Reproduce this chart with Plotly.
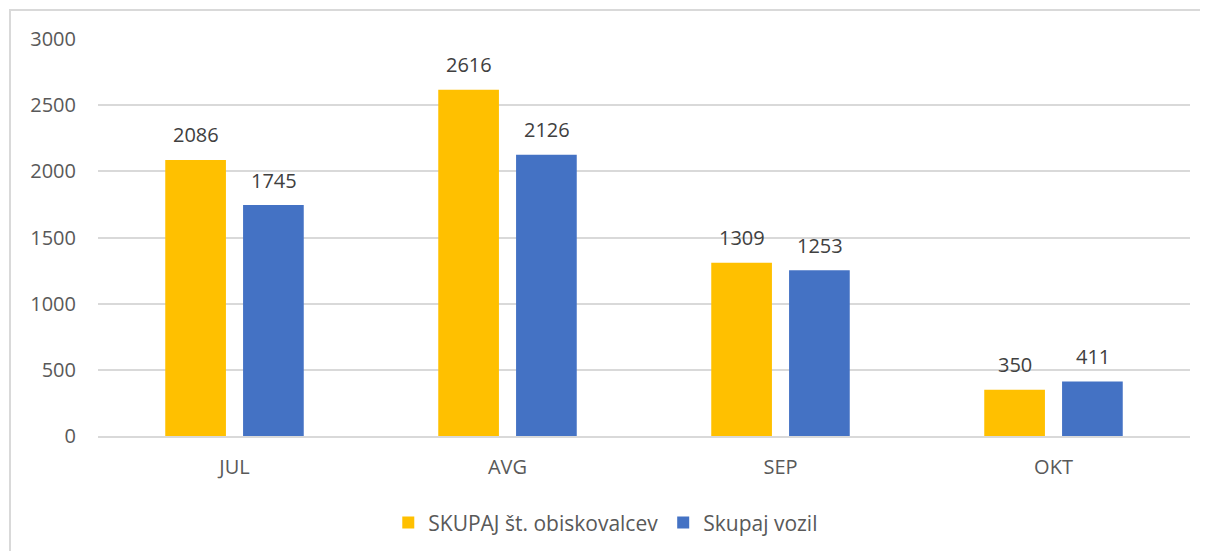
import plotly.graph_objects as go

months = ["JUL", "AVG", "SEP", "OKT"]
visitors = [2086, 2616, 1309, 350]
vehicles = [1745, 2126, 1253, 411]
series_names = ["SKUPAJ št. obiskovalcev", "Skupaj vozil"]
y_ticks = [0, 500, 1000, 1500, 2000, 2500, 3000]

FONT = "Open Sans"
TXT = "#595959"
LBL = "#404040"

fig = go.Figure()
fig.add_trace(go.Bar(x=months, y=visitors, name=series_names[0],
                     marker=dict(color="#FFC000", line=dict(width=0))))
fig.add_trace(go.Bar(x=months, y=vehicles, name=series_names[1],
                     marker=dict(color="#4472C4", line=dict(width=0))))

annotations = []
for vals, dx in ((visitors, -39), (vehicles, 39)):
    for m, v in zip(months, vals):
        annotations.append(dict(x=m, y=v, xref="x", yref="y", text=str(v),
                                showarrow=False, xshift=dx, yshift=25,
                                yanchor="middle", xanchor="center",
                                font=dict(family=FONT, size=20, color=LBL)))

fig.update_layout(
    width=1200, height=543,
    margin=dict(l=90, r=18, t=31, b=115, autoexpand=False),
    paper_bgcolor="white", plot_bgcolor="white",
    barmode="group", bargap=0.43, bargroupgap=0.22,
    font=dict(family=FONT, size=20, color=TXT),
    annotations=annotations,
    legend=dict(orientation="h", x=0.465, xanchor="center", y=-0.219, yanchor="middle",
                font=dict(family=FONT, size=21, color=TXT), itemwidth=30,
                traceorder="normal"),
    xaxis=dict(showgrid=False, showline=True, linecolor="#D9D9D9", linewidth=2,
               ticks="", tickfont=dict(family=FONT, size=20, color=TXT),
               ticklabelstandoff=12),
    yaxis=dict(range=[0, 3000], tickvals=y_ticks, showgrid=True, gridcolor="#D9D9D9",
               gridwidth=2, zeroline=False, showline=False, ticks="",
               tickfont=dict(family=FONT, size=20, color=TXT), ticklabelstandoff=21),
    shapes=[dict(type="rect", xref="paper", yref="paper",
                 x0=(10 - 98) / 1092, x1=(1230 - 98) / 1092,
                 y0=(436 - 580) / 397, y1=(436 - 10) / 397,
                 line=dict(color="#D9D9D9", width=2), fillcolor="rgba(0,0,0,0)",
                 layer="below")],
)

fig.write_html("out.html")
